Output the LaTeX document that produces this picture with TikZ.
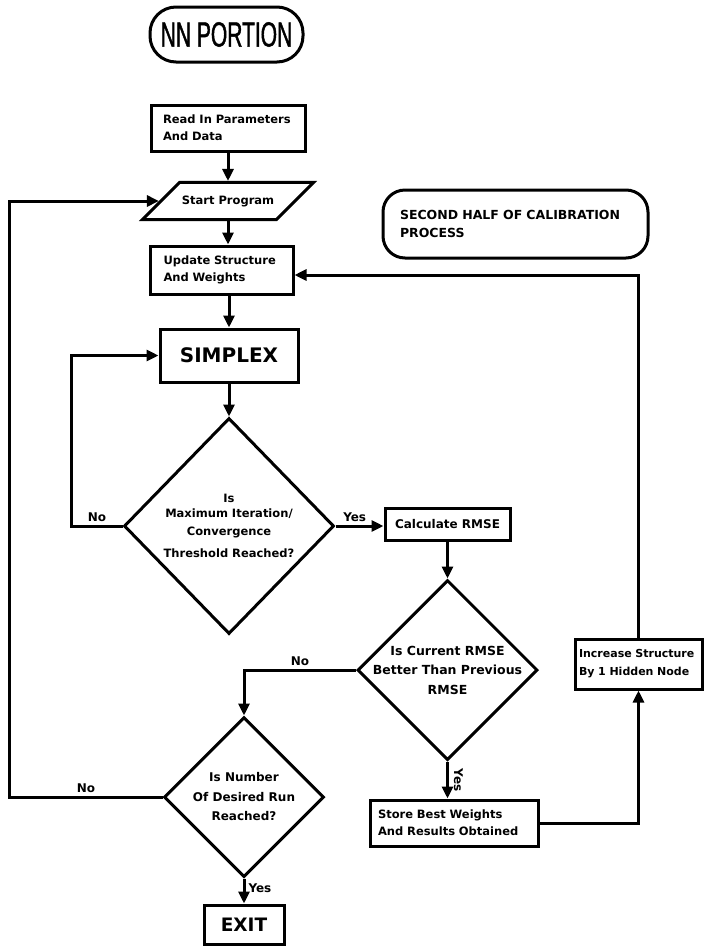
\documentclass[tikz,border=0pt]{standalone}
\usepackage{fontspec}
\setsansfont{DejaVu Sans}
\newfontfamily\titlefont[FakeStretch=0.6, FakeBold=1.2]{Liberation Sans}
\usepackage{tikz}
\usetikzlibrary{shapes.geometric, arrows.meta}

\begin{document}
\begin{tikzpicture}[x=1pt, y=-1pt, line width=3pt,
    font=\sffamily\bfseries\fontsize{11.5}{17}\selectfont,
    box/.style={draw, rectangle, inner sep=0pt, align=left},
    dia/.style={draw, diamond, inner sep=-10pt, align=center},
    pill/.style={draw, rectangle, rounded corners=#1, inner sep=0pt},
    arr/.style={-{Triangle[length=12pt, width=11pt]}},
    lbl/.style={font=\sffamily\bfseries\fontsize{12}{14}\selectfont, inner sep=3pt}]
    \useasboundingbox (0,0) rectangle (704,946);

    \node[pill=26pt, minimum width=153pt, minimum height=55pt,
          font=\titlefont\fontsize{35}{35}\selectfont] (title) at (226.5,34.5) {NN PORTION};
    \node[box, minimum width=154pt, minimum height=46pt, text width=130pt] (read) at (228,128) {Read In Parameters\\And Data};
    \node[draw, trapezium, trapezium left angle=45, trapezium right angle=135, trapezium stretches body,
          minimum width=171pt, inner xsep=0pt, inner ysep=13pt] (start) at (228,201) {Start Program};
    \node[box, minimum width=143pt, minimum height=48pt, text width=116pt] (update) at (221.5,270) {Update Structure\\And Weights};
    \node[pill=22pt, minimum width=265pt, minimum height=68pt, text width=231pt, align=left,
          font=\sffamily\bfseries\fontsize{12.5}{18}\selectfont] (half) at (515.5,224) {SECOND HALF OF CALIBRATION\\PROCESS};
    \node[box, minimum width=138pt, minimum height=53pt, align=center,
          font=\sffamily\bfseries\fontsize{20}{24}\selectfont] (simplex) at (229,355.5) {SIMPLEX};

    \node[dia, minimum width=210pt, minimum height=216pt] (d1) at (229,526)
        {Is\\[-2pt]Maximum Iteration/\\[1pt]Convergence\\[5pt]Threshold Reached?};
    \node[box, minimum width=125pt, minimum height=32pt, align=center,
          font=\sffamily\bfseries\fontsize{12}{14}\selectfont] (calc) at (447.5,524) {Calculate RMSE};
    \node[dia, minimum width=180pt, minimum height=180pt,
          font=\sffamily\bfseries\fontsize{12.5}{19.5}\selectfont] (d2) at (447.5,670)
        {Is Current RMSE\\Better Than Previous\\RMSE};
    \node[box, minimum width=168pt, minimum height=46pt, text width=152pt] (store) at (454,823) {Store Best Weights\\And Results Obtained};
    \node[box, minimum width=127pt, minimum height=50pt, text width=119pt,
          font=\sffamily\bfseries\fontsize{11}{18}\selectfont] (inc) at (638.5,664) {Increase Structure\\By 1 Hidden Node};
    \node[dia, minimum width=160pt, minimum height=160pt,
          font=\sffamily\bfseries\fontsize{12}{19.5}\selectfont] (d3) at (244,797)
        {Is Number\\Of Desired Run\\Reached?};
    \node[box, minimum width=80pt, minimum height=39pt, align=center,
          font=\sffamily\bfseries\fontsize{18.5}{22}\selectfont] (exit) at (244,924.5) {EXIT};

    \draw[arr] (read.south) -- (read.south |- start.north);
    \draw[arr] (start.south) -- (start.south |- update.north);
    \draw[arr] (update.south -| simplex) -- (simplex);
    \draw[arr] (simplex) -- (d1);
    \draw[arr] (d1.west) -- ++(-51,0) node[lbl, midway, above] {No} |- (simplex);
    \draw[arr] (d1.east) -- (d1.east -| calc.west) node[lbl, pos=0.4, above] {Yes};
    \draw[arr] (calc) -- (d2);
    \draw[arr] (d2) -- (d2 |- store.north) node[lbl, midway, rotate=-90, anchor=south, inner sep=5pt] {Yes};
    \draw[arr] (store.east) -| (inc.south);
    \draw[arr] (inc.north) |- ([yshift=-5pt]update.east);
    \draw[arr] (d2.west) -| (d3.north) node[lbl, pos=0.25, above] {No};
    \draw[arr] (d3.west) -- ++(-153,0) node[lbl, midway, above] {No} |- (start);
    \draw[arr] (d3) -- (exit) node[lbl, pos=0.4, right] {Yes};
\end{tikzpicture}
\end{document}
